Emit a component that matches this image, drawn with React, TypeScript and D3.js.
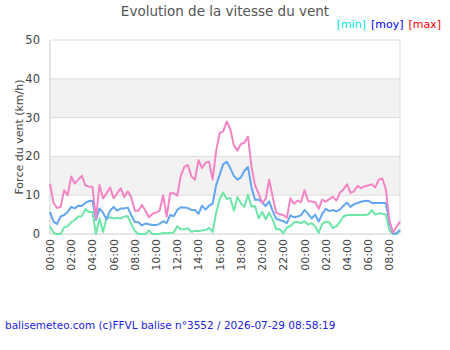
import React, { useEffect, useRef } from 'react'
import * as d3 from 'd3'

// readings every 20 minutes, starting 00:00 the day before
const stepMinutes = 20
const maxValues = [13, 8, 6.7, 7, 11.3, 10, 14.8, 13, 14, 15, 12.5, 12.2, 12.2, 4, 12.6, 9.2, 10.5, 12, 9.2, 10.5,
  11.8, 9.5, 11, 9.4, 6, 6, 7.5, 6, 4.3, 5.2, 5.5, 6, 10, 4.5, 10.5, 10.5, 9.9, 15, 17.3, 17.8,
  14.8, 14, 19, 17, 18.4, 18.6, 14, 21.5, 26, 26.5, 29, 27, 22.9, 21.5, 23.2, 23.5, 25.1, 17.3, 12.5, 10.5,
  8, 9, 14, 9.5, 5.5, 5.1, 4.9, 4.2, 9.2, 7.8, 8.6, 8.2, 11.3, 8.5, 8.4, 8.2, 6.5, 8.9, 8.3, 9,
  9.6, 8.6, 10.7, 11.5, 12.8, 10.6, 11, 12.4, 11.8, 12.3, 12.5, 12.8, 12, 14, 14.3, 11.5, 3.6, 0.3, 1.9, 3.2]
const moyValues = [5.7, 3.2, 2.6, 4.5, 4.9, 5.7, 7, 6.6, 7.3, 7.2, 8, 8.5, 8.6, 3.6, 6.6, 5.5, 3.8, 6, 7, 6,
  6.6, 6.6, 6.8, 4.8, 3.1, 3, 2.2, 2.7, 2.5, 2.3, 2.3, 2.6, 3.3, 2.8, 4.9, 4.6, 6.2, 6.9, 6.8, 6.7,
  6.2, 6.2, 5.2, 7.3, 6.3, 7.3, 7.8, 12.6, 15.3, 18, 18.6, 17, 15, 14, 14.6, 16.3, 17.3, 12, 8.8, 8.9,
  8.1, 7.2, 8.4, 5.9, 3.9, 3.6, 3.3, 2.8, 4.8, 4.3, 4.5, 4.8, 6.2, 5.2, 4, 5, 3.2, 5.2, 6.5, 5.9,
  6.2, 5.8, 6.3, 7.3, 8.1, 7, 7.7, 8, 8.3, 8.5, 8.6, 8, 8, 8, 8, 8, 3, 0.1, 0.2, 1]
const minValues = [2, 0.3, 0, 0, 1.7, 2, 3, 3.6, 4.5, 4.6, 6.4, 5.7, 5.7, 0, 4, 0.5, 4.1, 4.3, 4, 4.2,
  4, 4.5, 4.6, 2.5, 0.8, 0, 0, 0, 0.9, 0, 0, 0, 0.3, 0.2, 0.3, 0.4, 2, 1.2, 1.2, 1.5,
  0.6, 0.8, 0.8, 0.9, 1, 1.6, 0.5, 5.5, 9, 10.7, 9, 9.3, 6, 9.5, 7.9, 7, 10.2, 7, 7.2, 4,
  5.7, 3.8, 5.5, 3.7, 1.2, 1.2, 0.2, 1.7, 2, 3, 3.1, 2.8, 3.3, 2.4, 2.8, 2, 0.3, 2.6, 3.2, 3,
  1.5, 2, 3.1, 4.5, 4.9, 4.9, 4.9, 4.9, 4.9, 4.9, 5, 6.2, 5, 5.3, 5.3, 5, 0.9, 0, 0, 0.9]

const yTicks = [0, 10, 20, 30, 40, 50]
const xTickLabels = ['00:00', '02:00', '04:00', '06:00', '08:00', '10:00', '12:00', '14:00', '16:00',
  '18:00', '20:00', '22:00', '00:00', '02:00', '04:00', '06:00', '08:00']
const legend = [
  { label: '[min]', color: '#00e5e5' },
  { label: '[moy]', color: '#0000ff' },
  { label: '[max]', color: '#ff0000' },
]

const font = 'DejaVu Sans, Verdana, sans-serif'

export default function App() {
  const ref = useRef<SVGSVGElement>(null)

  useEffect(() => {
    const svg = d3.select(ref.current)
    svg.selectAll('*').remove()

    const margin = { top: 40, right: 50, bottom: 116, left: 50 }
    const width = 450 - margin.left - margin.right
    const height = 350 - margin.top - margin.bottom

    const x = d3.scaleLinear().domain([0, 33 * 60]).range([0, width])
    const y = d3.scaleLinear().domain([0, 50]).range([height, 0])

    const g = svg.append('g').attr('transform', `translate(${margin.left},${margin.top})`)

    // grey bands 10-20 and 30-40
    ;[[10, 20], [30, 40]].forEach(([a, b]) => {
      g.append('rect')
        .attr('x', 0).attr('width', width)
        .attr('y', y(b)).attr('height', y(a) - y(b))
        .attr('fill', '#f2f2f2')
    })

    // horizontal grid lines
    g.selectAll('.grid')
      .data(yTicks.slice(1))
      .enter().append('line')
      .attr('x1', 0).attr('x2', width)
      .attr('y1', d => y(d)).attr('y2', d => y(d))
      .attr('stroke', '#dddddd')

    // frame sides
    g.append('line').attr('x1', 0).attr('x2', 0).attr('y1', 0).attr('y2', height).attr('stroke', '#cccccc')
    g.append('line').attr('x1', width).attr('x2', width).attr('y1', 0).attr('y2', height).attr('stroke', '#dddddd')
    g.append('line').attr('x1', 0).attr('x2', width).attr('y1', height).attr('y2', height).attr('stroke', '#cccccc')

    // y tick labels
    g.selectAll('.ylab')
      .data(yTicks)
      .enter().append('text')
      .attr('x', -10).attr('y', d => y(d) + 4)
      .attr('text-anchor', 'end')
      .style('font', `11.5px ${font}`).attr('fill', '#444')
      .text(d => d)

    // x tick labels, rotated
    g.selectAll('.xlab')
      .data(xTickLabels)
      .enter().append('text')
      .attr('transform', (d, i) => `translate(${x(i * 120) + 4},${height + 5}) rotate(-90)`)
      .attr('text-anchor', 'end')
      .style('font', `11px ${font}`).attr('fill', '#444')
      .text(d => d)

    // the three series
    const line = d3.line<number>()
      .x((d, i) => x(i * stepMinutes))
      .y(d => y(d))
    const series = [
      { values: minValues, color: '#6ee6a8' },
      { values: moyValues, color: '#62a6f2' },
      { values: maxValues, color: '#f484c4' },
    ]
    series.forEach(s => {
      g.append('path')
        .datum(s.values)
        .attr('d', line)
        .attr('fill', 'none')
        .attr('stroke', s.color)
        .attr('stroke-width', 2)
        .attr('stroke-linejoin', 'round')
    })

    // y axis title
    svg.append('text')
      .attr('transform', `translate(23,${margin.top + height / 2}) rotate(-90)`)
      .attr('text-anchor', 'middle')
      .style('font', `11px ${font}`).attr('fill', '#444')
      .text('Force du vent (km/h)')

    // title
    svg.append('text')
      .attr('x', 225).attr('y', 16)
      .attr('text-anchor', 'middle')
      .style('font', `13.5px ${font}`).attr('fill', '#555')
      .text('Evolution de la vitesse du vent')

    // legend
    let lx = 441
    legend.slice().reverse().forEach(l => {
      const t = svg.append('text')
        .attr('x', lx).attr('y', 28)
        .attr('text-anchor', 'end')
        .style('font', `11px ${font}`).attr('fill', l.color)
        .text(l.label)
      lx -= (t.node() as SVGTextElement).getComputedTextLength() + 5
    })

    // footer
    svg.append('text')
      .attr('x', 5).attr('y', 329)
      .style('font', `10.5px ${font}`).attr('fill', '#2222dd')
      .text('balisemeteo.com (c)FFVL balise n°3552 / 2026-07-29 08:58:19')
  }, [])

  return (
    <div style={{ position: 'absolute', left: 0, top: 0 }}>
      <svg ref={ref} width={450} height={350} style={{ display: 'block', background: '#fff' }} />
    </div>
  )
}
